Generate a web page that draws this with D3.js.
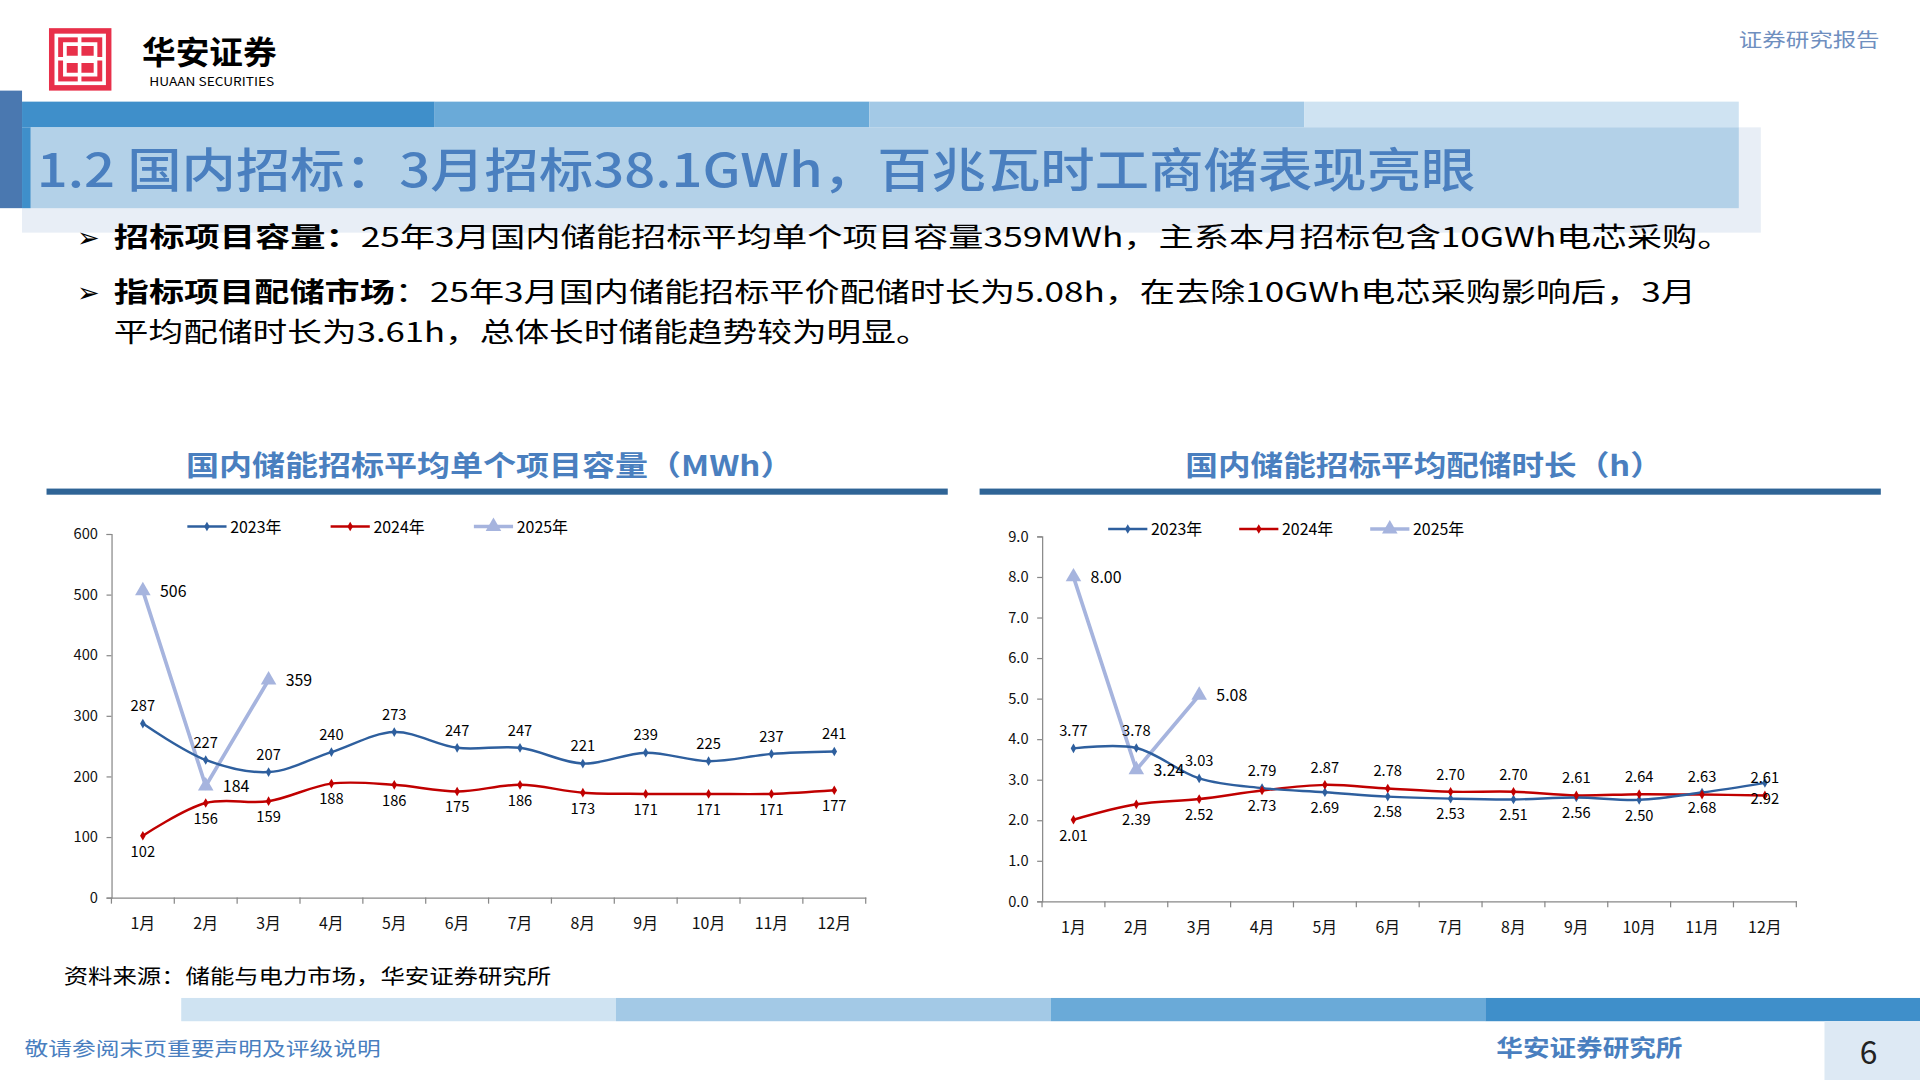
<!DOCTYPE html>
<html><head><meta charset="utf-8">
<script src="https://cdn.jsdelivr.net/npm/d3@7"></script>
<style>body{margin:0;background:#fff}svg{display:block}text{font-family:"Noto Sans CJK SC",sans-serif}</style>
</head><body><svg id="s" width="1920" height="1080" viewBox="0 0 1568 882" preserveAspectRatio="none"></svg>
<script>
const months=["1月","2月","3月","4月","5月","6月","7月","8月","9月","10月","11月","12月"];
const cap2023=[287,227,207,240,273,247,247,221,239,225,237,241];
const cap2024=[102,156,159,188,186,175,186,173,171,171,171,177];
const cap2025=[506,184,359];
const dur2023=[3.77,3.78,3.03,2.79,2.69,2.58,2.53,2.51,2.56,2.50,2.68,2.92];
const dur2024=[2.01,2.39,2.52,2.73,2.87,2.78,2.70,2.70,2.61,2.64,2.63,2.61];
const dur2025=[8.00,3.24,5.08];
const capTicks=[0,100,200,300,400,500,600];
const durTicks=[0,1,2,3,4,5,6,7,8,9];
const seriesNames=["2023年","2024年","2025年"];

const svg=d3.select("#s");
const BLUE="#4a7fbf", C23="#2e5f9e", C24="#c00000", C25="#a6b4de";
function T(x,y,size,str,len){const t=svg.append("text").attr("x",x).attr("y",y).attr("font-size",size).text(str);if(len)t.attr("textLength",len).attr("lengthAdjust","spacingAndGlyphs");return t;}
// header
svg.append("rect").attr("x",40).attr("y",23).attr("width",51).attr("height",51).attr("fill","#e8304a");
const lg=svg.append("g").attr("stroke","#fff").attr("stroke-width",3).attr("fill","none");
lg.append("rect").attr("x",46).attr("y",29).attr("width",39).attr("height",39);
lg.append("path").attr("d","M53 36h25v11h-25zM53 50h25v11h-25zM65 29v39M46 48h39");
T(116,52,26,"华安证券",110).attr("font-weight",700);
T(122,70,10,"HUAAN SECURITIES",102).attr("font-family","Liberation Serif");
T(1420,38,16,"证券研究报告",115).attr("fill","#6f8fbf");
svg.append("rect").attr("x",0).attr("y",74).attr("width",18).attr("height",96).attr("fill","#4a78b0");
[["#3f8fca",18,355],["#6aaad8",355,710],["#a3c9e6",710,1065],["#cfe3f2",1065,1420]].forEach(b=>svg.append("rect").attr("x",b[1]).attr("y",83).attr("width",b[2]-b[1]).attr("height",22).attr("fill",b[0]));
svg.append("rect").attr("x",18).attr("y",104).attr("width",1420).attr("height",86).attr("fill","#e8eef6");
svg.append("rect").attr("x",25).attr("y",104).attr("width",1395).attr("height",66).attr("fill","#b3d1e8");
svg.append("rect").attr("x",18).attr("y",104).attr("width",7).attr("height",66).attr("fill","#3f8fca");
T(30,153,38,"1.2 国内招标：3月招标38.1GWh，百兆瓦时工商储表现亮眼",1175).attr("fill",BLUE).attr("font-weight",500);
function bullet(y,b,t,len){T(63,y,22,"➢");
 const tx=T(93,y,22,"",len);tx.text(null);
 tx.append("tspan").attr("font-weight",700).text(b);tx.append("tspan").text(t);}
bullet(202,"招标项目容量：","25年3月国内储能招标平均单个项目容量359MWh，主系本月招标包含10GWh电芯采购。",1322);
bullet(247,"指标项目配储市场","：25年3月国内储能招标平价配储时长为5.08h，在去除10GWh电芯采购影响后，3月",1292);
T(93,279,22,"平均配储时长为3.61h，总体长时储能趋势较为明显。",667);
// footer
T(52,804,17,"资料来源：储能与电力市场，华安证券研究所",398);
[["#cfe3f2",148,503],["#a3c9e6",503,858],["#6aaad8",858,1213],["#3f8fca",1213,1568]].forEach(b=>svg.append("rect").attr("x",b[1]).attr("y",815).attr("width",b[2]-b[1]).attr("height",19).attr("fill",b[0]));
T(20,862,16,"敬请参阅末页重要声明及评级说明",291).attr("fill",BLUE);
T(1222,862,19,"华安证券研究所",152).attr("font-weight",700).attr("fill",BLUE);
svg.append("rect").attr("x",1490).attr("y",834).attr("width",78).attr("height",48).attr("fill","#dde9f4");
svg.append("text").attr("x",1526).attr("y",869).attr("text-anchor","middle").attr("font-size",26).attr("fill","#222").text("6");

function chart(o){
 T(o.tx0,389,23,o.title,o.tx1-o.tx0).attr("font-weight",700).attr("fill",BLUE);
 svg.append("rect").attr("x",o.bx).attr("y",399).attr("width",736).attr("height",5).attr("fill","#2f6496");
 const x=d3.scaleBand().domain(months).range([o.x0,o.x0+616]);
 const y=d3.scaleLinear().domain([0,o.max]).range([o.y0,o.y1]);
 const cx=m=>x(m)+x.bandwidth()/2;
 const g=svg.append("g").attr("font-family","Liberation Sans,Arial").attr("font-size",12);
 const ya=g.append("g").attr("transform",`translate(${o.x0},0)`).call(d3.axisLeft(y).tickValues(o.ticks).tickSize(4).tickFormat(o.fmt));
 const xa=g.append("g").attr("transform",`translate(0,${o.y0})`).call(d3.axisBottom(x).tickSize(5).tickSizeOuter(0).tickFormat(()=>""));
 xa.selectAll(".tick line").attr("transform",`translate(${x.bandwidth()/2},0)`);
 xa.append("line").attr("x1",o.x0).attr("x2",o.x0).attr("y1",0).attr("y2",5).attr("stroke","#888");
 [ya,xa].forEach(a=>{a.select(".domain").attr("stroke","#888");a.selectAll("line").attr("stroke","#888");a.selectAll("text").attr("font-size",12).attr("fill","#111");});
 ya.selectAll(".tick text").attr("dx",-4);
 months.forEach(m=>g.append("text").attr("x",cx(m)).attr("y",o.y0+26).attr("text-anchor","middle").attr("font-size",13).attr("fill","#111").text(m));
 const line=d3.line().x((d,i)=>cx(months[i])).y(d=>y(d));
 g.append("path").attr("d",line.curve(d3.curveLinear)(o.s25)).attr("fill","none").attr("stroke",C25).attr("stroke-width",3);
 g.append("path").attr("d",line.curve(d3.curveCatmullRom.alpha(0.5))(o.s24)).attr("fill","none").attr("stroke",C24).attr("stroke-width",2);
 g.append("path").attr("d",line.curve(d3.curveCatmullRom.alpha(0.5))(o.s23)).attr("fill","none").attr("stroke",C23).attr("stroke-width",2);
 const dia=d3.symbol().type(d3.symbolDiamond).size(18), tri=d3.symbol().type(d3.symbolTriangle).size(70);
 [[o.s23,C23,dia],[o.s24,C24,dia],[o.s25,C25,tri]].forEach(([s,c,sy])=>s.forEach((v,i)=>g.append("path").attr("d",sy()).attr("fill",c).attr("transform",`translate(${cx(months[i])},${y(v)})`)));
 o.s23.forEach((v,i)=>{const up=o.up23(i);g.append("text").attr("x",cx(months[i])).attr("y",y(v)+(up?-10:17)).attr("text-anchor","middle").text(o.lf(v));});
 o.s24.forEach((v,i)=>{const up=!o.up23(i);g.append("text").attr("x",cx(months[i])).attr("y",y(v)+(up?-10:17)).attr("text-anchor","middle").text(o.lf(v));});
 o.s25.forEach((v,i)=>g.append("text").attr("x",cx(months[i])+14).attr("y",y(v)+5).attr("font-size",13).text(o.lf(v)));
 const lc=[C23,C24,C25];
 seriesNames.forEach((n,k)=>{const lx=o.lx+k*o.ls;
  g.append("line").attr("x1",lx).attr("x2",lx+32).attr("y1",o.ly).attr("y2",o.ly).attr("stroke",lc[k]).attr("stroke-width",k==2?3:2);
  g.append("path").attr("d",(k==2?tri:dia)()).attr("fill",lc[k]).attr("transform",`translate(${lx+16},${o.ly})`);
  g.append("text").attr("x",lx+35).attr("y",o.ly+5).attr("font-size",13).text(n);});
}
chart({title:"国内储能招标平均单个项目容量（MWh）",tx0:152,tx1:648,bx:38,x0:91,y0:733,y1:436,max:600,ticks:capTicks,fmt:d3.format("d"),
 s23:cap2023,s24:cap2024,s25:cap2025,up23:()=>true,lf:d3.format("d"),lx:153,ls:117,ly:430});
chart({title:"国内储能招标平均配储时长（h）",tx0:968,tx1:1358,bx:800,x0:851,y0:736,y1:438,max:9,ticks:durTicks,fmt:d3.format(".1f"),
 s23:dur2023,s24:dur2024,s25:dur2025,up23:i=>i<4,lf:d3.format(".2f"),lx:905,ls:107,ly:432});
</script></body></html>
